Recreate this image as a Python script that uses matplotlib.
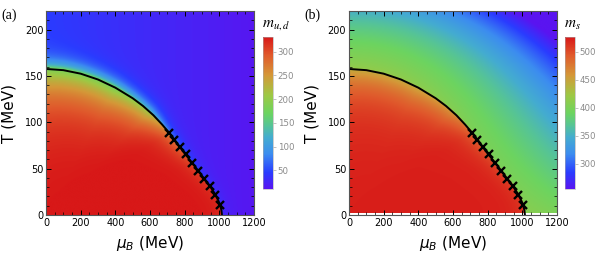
import numpy as np
import matplotlib
matplotlib.use('Agg')
import matplotlib.pyplot as plt
from matplotlib.colors import LinearSegmentedColormap
from matplotlib.ticker import MultipleLocator

plt.rcParams['font.family'] = ['DejaVu Sans']
plt.rcParams['mathtext.fontset'] = 'dejavusans'

# phase boundary
mu_curve = [0, 100, 200, 300, 400, 500, 560, 620, 670, 711, 740, 773, 808, 844, 879,
            913, 948, 977, 1004, 1012, 1015]
T_curve = [157.5, 156.2, 152.4, 146.1, 137.3, 125.9, 117.5, 107.5, 97.5, 88.5, 81.5, 73.0,
           64.5, 56.0, 47.5, 39.0, 30.5, 22.0, 11.5, 5.0, 0.0]

# first-order points (crosses)
mu_cross = [711, 738, 773, 808, 844, 879, 913, 948, 977, 1004]
T_cross = [88.5, 81.4, 72.8, 65.6, 56.2, 47.7, 39.0, 31.2, 21.8, 11.1]

# profile parameters along the boundary, indexed by boundary mu
mu_tab = [0, 400, 600, 711, 850, 1015]
Sin_ud = [0.47, 0.48, 0.58, 0.78, 0.9, 0.96]
Sout_ud = [0.47, 0.45, 0.35, 0.18, 0.1, 0.05]
lamin_ud = [0.2, 0.17, 0.13, 0.08, 0.06, 0.05]
lamout_ud = [0.052, 0.045, 0.04, 0.035, 0.03, 0.03]

Sin_s = [0.28, 0.32, 0.45, 0.68, 0.8, 0.88]
Sout_s = [0.05, 0.04, 0.03, 0.0, 0.0, 0.0]
lamin_s = [0.2, 0.18, 0.14, 0.09, 0.07, 0.06]
lamout_s = [0.05, 0.05, 0.05, 0.04, 0.04, 0.04]

m_ud_range = (10, 331)
m_s_range = (254, 526)
m_ud_in, m_s_in = 331, 522

# colour map
cm_nodes = [(0.0, '#5a14f0'), (0.11, '#2a3cff'), (0.23, '#3c8cf0'), (0.34, '#44acd0'),
            (0.42, '#56c496'), (0.50, '#6cd460'), (0.62, '#9ec844'), (0.75, '#d49838'),
            (0.88, '#e05a2c'), (1.0, '#d81818')]
cmap = LinearSegmentedColormap.from_list('mrain', cm_nodes)

# grid
mu = np.linspace(0, 1200, 601)
T = np.linspace(0, 220, 441)
MU, TT = np.meshgrid(mu, T)
mu0, T0 = 1015.0, 157.5
xc = np.array(mu_curve) / mu0
yc = np.array(T_curve) / T0
thc = np.arctan2(yc, xc)
rc = np.hypot(xc, yc)
order = np.argsort(thc)
thc, rc = thc[order], rc[order]
X, Y = MU / mu0, TT / T0
th = np.arctan2(Y, X)
rb = np.interp(th, thc, rc)
rho = np.hypot(X, Y) / rb
mub = rb * np.cos(th) * mu0


def profile(Sin, Sout, lin, lout):
    si = np.interp(mub, mu_tab, Sin)
    so = np.interp(mub, mu_tab, Sout)
    li = np.interp(mub, mu_tab, lin)
    lo = np.interp(mub, mu_tab, lout)
    return np.where(rho < 1, 1 - (1 - si) * np.exp(-(1 - rho) / li),
                    so * np.exp(-(rho - 1) / lo))


u, v = TT / 220, MU / 1200
out_ud = 45 - 32 * v
out_s = 431 - 31 * v ** 2 - 80 * u ** 4 - 120 * u * v ** 2
field_ud = out_ud + (m_ud_in - out_ud) * profile(Sin_ud, Sout_ud, lamin_ud, lamout_ud)
field_s = out_s + (m_s_in - out_s) * profile(Sin_s, Sout_s, lamin_s, lamout_s)

fig = plt.figure(figsize=(5.97, 2.57), dpi=100)

panels = [
    (field_ud, m_ud_range, 0.0771, 0.4405, [50, 100, 150, 200, 250, 300], r'$m_{u,d}$', '(a)', [0, 1200, 0, 220]),
    (field_s, m_s_range, 0.5846, 0.9464, [300, 350, 400, 450, 500], r'$m_s$', '(b)', [0, 1200, 2, 219]),
]
for field, rng, axl, cbl, cticks, ctitle, tag, ext in panels:
    ax = fig.add_axes([axl, 0.1634, 0.3484, 0.7938])
    im = ax.imshow(field, origin='lower', extent=ext, aspect='auto', cmap=cmap,
                   vmin=rng[0], vmax=rng[1], interpolation='bilinear')
    ax.set_xlim(0, 1200)
    ax.set_ylim(0, 220)
    ax.plot(mu_curve, T_curve, color='black', lw=1.4)
    ax.plot(mu_cross, T_cross, 'x', color='black', ms=6, mew=1.7)
    ax.xaxis.set_major_locator(MultipleLocator(200))
    ax.xaxis.set_minor_locator(MultipleLocator(50))
    ax.yaxis.set_major_locator(MultipleLocator(50))
    ax.yaxis.set_minor_locator(MultipleLocator(10))
    ax.tick_params(which='both', direction='in', top=True, right=True, labelsize=7, pad=2)
    ax.tick_params(which='major', length=3.5, width=0.7)
    ax.tick_params(which='minor', length=2, width=0.5)
    for s in ax.spines.values():
        s.set_color('#555555')
        s.set_linewidth(0.8)
    ax.set_xlabel(r'$\mu_B$ (MeV)', fontsize=11)
    ax.set_ylabel('T (MeV)', fontsize=11)
    ax.xaxis.set_label_coords(0.5, -0.095)
    ax.yaxis.set_label_coords(-0.14, 0.5)

    cax = fig.add_axes([cbl, 0.263, 0.01675, 0.593])
    cb = fig.colorbar(im, cax=cax, ticks=cticks)
    cb.outline.set_linewidth(0.4)
    cb.outline.set_edgecolor('#aaaaaa')
    cax.tick_params(labelsize=6.2, labelcolor='#8a8a8a', color='#aaaaaa', length=2, width=0.5, pad=1.5)
    fig.text(cbl - 0.002, 0.875, ctitle, fontsize=11, math_fontfamily='stix', ha='left', va='bottom')
    fig.text(axl - 0.074, 0.94, tag, fontsize=10, family='Liberation Serif', ha='left', va='center')

fig.savefig('out.png', dpi=100)
